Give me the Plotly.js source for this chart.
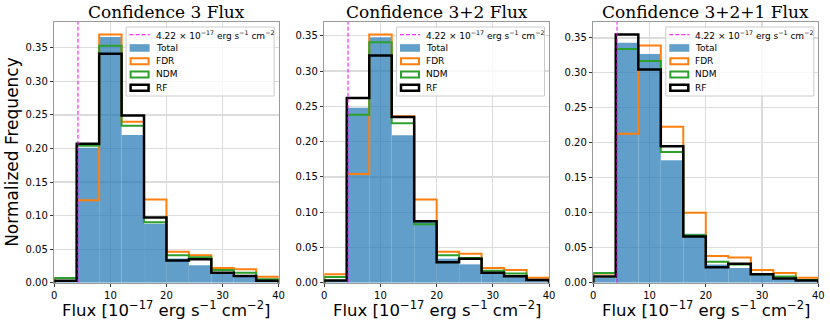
<!DOCTYPE html>
<html>
<head>
<meta charset="utf-8">
<script src="https://cdn.plot.ly/plotly-3.0.1.min.js"></script>
<style>html,body{margin:0;padding:0;background:#fff}</style>
</head>
<body>
<div id="plot" style="width:830px;height:327px"></div>
<script>
// bin edges of the flux histograms (10^-17 erg s^-1 cm^-2)
let binEdges = [0, 4, 8, 12, 16, 20, 24, 28, 32, 36, 40];
let fluxLimit = 4.22;

// Confidence 3
let total3 = [0.002, 0.201, 0.366, 0.220, 0.088, 0.036, 0.026, 0.015, 0.009, 0.002];
let fdr3   = [0.007, 0.123, 0.370, 0.240, 0.124, 0.046, 0.041, 0.022, 0.020, 0.009];
let ndm3   = [0.007, 0.204, 0.353, 0.234, 0.090, 0.041, 0.038, 0.019, 0.015, 0.005];
let rf3    = [0.003, 0.207, 0.341, 0.249, 0.097, 0.033, 0.035, 0.015, 0.010, 0.003];

// Confidence 3+2
let total32 = [0.003, 0.248, 0.348, 0.209, 0.089, 0.034, 0.026, 0.013, 0.008, 0.003];
let fdr32   = [0.012, 0.154, 0.352, 0.236, 0.118, 0.044, 0.041, 0.021, 0.018, 0.007];
let ndm32   = [0.008, 0.238, 0.341, 0.226, 0.083, 0.039, 0.035, 0.017, 0.013, 0.004];
let rf32    = [0.003, 0.262, 0.322, 0.235, 0.087, 0.029, 0.034, 0.014, 0.009, 0.004];

// Confidence 3+2+1
let total321 = [0.007, 0.343, 0.327, 0.175, 0.070, 0.026, 0.021, 0.011, 0.005, 0.002];
let fdr321   = [0.013, 0.213, 0.339, 0.223, 0.100, 0.038, 0.036, 0.018, 0.014, 0.007];
let ndm321   = [0.014, 0.334, 0.317, 0.187, 0.068, 0.030, 0.026, 0.012, 0.009, 0.004];
let rf321    = [0.009, 0.355, 0.305, 0.195, 0.066, 0.022, 0.027, 0.012, 0.006, 0.003];

let panelTitles = ['Confidence 3 Flux', 'Confidence 3+2 Flux', 'Confidence 3+2+1 Flux'];
let panelData = [
    {total: total3, fdr: fdr3, ndm: ndm3, rf: rf3},
    {total: total32, fdr: fdr32, ndm: ndm32, rf: rf32},
    {total: total321, fdr: fdr321, ndm: ndm321, rf: rf321},
];

let W = 830, H = 327;
// pixel edges of each axes box
let boxes = [[54.3, 278.6], [324.3, 549], [593.3, 818.3]];
let boxTop = 22, boxBottom = 282.7;
let px = x => x / W;
let py = y => 1 - y / H;

let blue = '#1f77b4';
let stepColors = {fdr: '#ff7f0e', ndm: '#2ca02c', rf: '#000000'};
let stepWidths = {fdr: 2, ndm: 2, rf: 2.5};

// step outline like matplotlib histtype='step'
function stepXY(vals) {
    let x = [binEdges[0]], y = [0];
    for (let i = 0; i < vals.length; i++) {
        x.push(binEdges[i]);
        y.push(vals[i]);
    }
    x.push(binEdges[binEdges.length - 1]); y.push(vals[vals.length - 1]);
    x.push(binEdges[binEdges.length - 1]); y.push(0);
    return {x: x, y: y};
}

let centers = [];
let widths = [];
for (let i = 0; i < binEdges.length - 1; i++) {
    centers.push((binEdges[i] + binEdges[i + 1]) / 2);
    widths.push(binEdges[i + 1] - binEdges[i]);
}

let data = [];
let layout = {
    width: W, height: H,
    margin: {l: 0, r: 0, t: 0, b: 0},
    paper_bgcolor: '#fff', plot_bgcolor: '#fff',
    showlegend: false,
    barmode: 'overlay',
    annotations: [],
    shapes: [],
};

let tickFont = {family: 'DejaVu Sans', size: 10, color: '#000'};

panelData.forEach((p, k) => {
    let sfx = k === 0 ? '' : String(k + 1);
    let xa = 'x' + sfx, ya = 'y' + sfx;
    let ymax = Math.max(...p.total, ...p.fdr, ...p.ndm, ...p.rf) * 1.05;

    data.push({
        type: 'bar', x: centers, y: p.total, width: widths,
        marker: {color: blue, line: {width: 0}}, opacity: 0.7,
        xaxis: xa, yaxis: ya, name: 'Total', hoverinfo: 'skip'
    });
    ['fdr', 'ndm', 'rf'].forEach(key => {
        let s = stepXY(p[key]);
        data.push({
            type: 'scatter', mode: 'lines', x: s.x, y: s.y,
            line: {shape: 'hv', color: stepColors[key], width: stepWidths[key]},
            xaxis: xa, yaxis: ya, name: key.toUpperCase(), hoverinfo: 'skip'
        });
    });
    data.push({
        type: 'scatter', mode: 'lines', x: [fluxLimit, fluxLimit], y: [0, ymax],
        line: {color: '#ff00ff', width: 1, dash: '4px,2px'},
        xaxis: xa, yaxis: ya, hoverinfo: 'skip'
    });

    let [L, R] = boxes[k];
    layout['xaxis' + sfx] = {
        domain: [px(L), px(R)], anchor: ya, range: [0, 40], tick0: 0, dtick: 10,
        ticks: 'outside', ticklen: 3.5, tickwidth: 0.8, tickcolor: '#000',
        showline: true, mirror: true, linecolor: '#999', linewidth: 1,
        showgrid: true, gridcolor: '#dcdcdc', gridwidth: 1.2, zeroline: false,
        tickfont: tickFont, fixedrange: true
    };
    layout['yaxis' + sfx] = {
        domain: [py(boxBottom), py(boxTop)], anchor: xa, range: [0, ymax], tick0: 0, dtick: 0.05,
        tickformat: '.2f',
        ticks: 'outside', ticklen: 3.5, tickwidth: 0.8, tickcolor: '#000',
        showline: true, mirror: true, linecolor: '#999', linewidth: 1,
        showgrid: true, gridcolor: '#dcdcdc', gridwidth: 1.2, zeroline: false,
        tickfont: tickFont, fixedrange: true
    };

    let cx = (L + R) / 2;
    layout.annotations.push({
        text: panelTitles[k], xref: 'paper', yref: 'paper', x: px(cx), y: py(11.5),
        xanchor: 'center', yanchor: 'middle', showarrow: false,
        font: {family: 'DejaVu Serif', size: 17, color: '#000'}
    });
    layout.annotations.push({
        text: 'Flux [10<sup>\u221217</sup> erg s<sup>\u22121</sup> cm<sup>\u22122</sup>]',
        xref: 'paper', yref: 'paper', x: px(cx), y: py(322),
        xanchor: 'center', yanchor: 'bottom', showarrow: false,
        font: {family: 'DejaVu Sans', size: 16.5, color: '#000'}
    });

    // legend box drawn inside the upper right of each panel
    let lr = R - 4.5, ll = lr - 148, lt = boxTop + 5, lb = boxTop + 74;
    layout.shapes.push({
        type: 'rect', xref: 'paper', yref: 'paper',
        x0: px(ll), x1: px(lr), y0: py(lb), y1: py(lt),
        fillcolor: 'rgba(255,255,255,0.8)', line: {color: '#cccccc', width: 1}
    });
    let labels = ['4.22 \u00d7 10<sup>\u221217</sup> erg s<sup>\u22121</sup> cm<sup>\u22122</sup>', 'Total', 'FDR', 'NDM', 'RF'];
    labels.forEach((lab, i) => {
        let ry = lt + 7.7 + 13.25 * i;
        let sx0 = ll + 3.5, sx1 = ll + 23.5;
        if (i === 0) {
            layout.shapes.push({
                type: 'line', xref: 'paper', yref: 'paper',
                x0: px(sx0), x1: px(sx1), y0: py(ry), y1: py(ry),
                line: {color: '#ff00ff', width: 1, dash: '4px,2px'}
            });
        } else if (i === 1) {
            layout.shapes.push({
                type: 'rect', xref: 'paper', yref: 'paper',
                x0: px(sx0), x1: px(sx1), y0: py(ry + 3.8), y1: py(ry - 3.8),
                fillcolor: blue, opacity: 0.7, line: {width: 0}
            });
        } else {
            let key = ['fdr', 'ndm', 'rf'][i - 2];
            layout.shapes.push({
                type: 'rect', xref: 'paper', yref: 'paper',
                x0: px(sx0 + 1), x1: px(sx1 - 1), y0: py(ry + 3), y1: py(ry - 3),
                fillcolor: 'rgba(255,255,255,0)', line: {color: stepColors[key], width: stepWidths[key]}
            });
        }
        layout.annotations.push({
            text: lab, xref: 'paper', yref: 'paper', x: px(ll + 27.5), y: py(ry),
            xanchor: 'left', yanchor: 'middle', showarrow: false,
            font: {family: 'DejaVu Sans', size: 9, color: '#000'}
        });
    });
});

layout.annotations.push({
    text: 'Normalized Frequency', xref: 'paper', yref: 'paper',
    x: px(12.5), y: py((boxTop + boxBottom) / 2), textangle: -90,
    xanchor: 'center', yanchor: 'middle', showarrow: false,
    font: {family: 'DejaVu Sans', size: 17, color: '#000'}
});

Plotly.newPlot('plot', data, layout, {displayModeBar: false, staticPlot: true});
</script>
</body>
</html>
